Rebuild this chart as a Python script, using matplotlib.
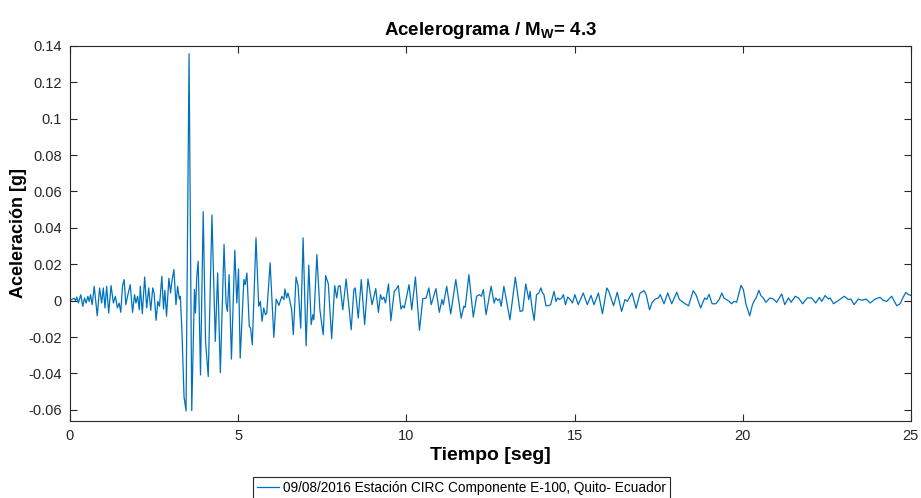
import numpy as np
import matplotlib
matplotlib.use('Agg')
import matplotlib.pyplot as plt
from matplotlib.ticker import FormatStrFormatter

plt.rcParams['font.family'] = ['Liberation Sans', 'DejaVu Sans']
plt.rcParams['mathtext.fontset'] = 'custom'
plt.rcParams['mathtext.rm'] = 'Liberation Sans'
plt.rcParams['mathtext.bf'] = 'Liberation Sans:bold'

# acelerograma (tiempo [s], aceleracion [g])
t = [0.0, 0.05, 0.12, 0.17, 0.20, 0.25, 0.32, 0.38, 0.43, 0.48, 0.53, 0.57, 0.61, 0.66,
     0.72, 0.81, 0.88, 0.94, 0.99, 1.04, 1.09, 1.15, 1.22, 1.29, 1.35, 1.41, 1.46, 1.51,
     1.56, 1.61, 1.66, 1.71, 1.79, 1.86, 1.92, 1.96, 2.01, 2.06, 2.09, 2.15, 2.22, 2.28,
     2.34, 2.40, 2.46, 2.50, 2.56, 2.61, 2.66, 2.73, 2.78, 2.82, 2.87, 2.94, 2.99, 3.03,
     3.09, 3.15, 3.20, 3.25, 3.28, 3.33, 3.39, 3.45, 3.54, 3.62, 3.70, 3.73, 3.77, 3.81,
     3.84, 3.88, 3.96, 4.03, 4.11, 4.22, 4.32, 4.39, 4.47, 4.58, 4.64, 4.68, 4.73, 4.80,
     4.90, 4.96, 5.01, 5.06, 5.17, 5.21, 5.26, 5.33, 5.37, 5.42, 5.53, 5.61, 5.66, 5.71,
     5.76, 5.81, 5.85, 5.95, 6.06, 6.13, 6.21, 6.30, 6.36, 6.39, 6.44, 6.48, 6.52, 6.59,
     6.64, 6.72, 6.78, 6.86, 6.93, 7.02, 7.10, 7.17, 7.22, 7.25, 7.34, 7.43, 7.48, 7.53,
     7.60, 7.68, 7.78, 7.87, 7.93, 7.98, 8.03, 8.11, 8.21, 8.36, 8.44, 8.48, 8.57, 8.66,
     8.76, 8.86, 8.98, 9.09, 9.17, 9.23, 9.28, 9.33, 9.38, 9.47, 9.54, 9.64, 9.69, 9.76,
     9.84, 9.89, 9.94, 10.08, 10.16, 10.27, 10.39, 10.49, 10.59, 10.67, 10.74, 10.88,
     10.98, 11.06, 11.10, 11.20, 11.32, 11.47, 11.63, 11.71, 11.75, 11.86, 11.99, 12.09,
     12.17, 12.23, 12.29, 12.37, 12.52, 12.61, 12.66, 12.71, 12.77, 12.82, 12.90, 13.08,
     13.24, 13.38, 13.46, 13.55, 13.64, 13.68, 13.73, 13.80, 13.87, 13.94, 14.00, 14.05,
     14.09, 14.15, 14.22, 14.29, 14.39, 14.45, 14.50, 14.55, 14.62, 14.67, 14.73, 14.80,
     14.87, 14.94, 15.01, 15.11, 15.26, 15.38, 15.49, 15.58, 15.71, 15.83, 15.96, 16.02,
     16.16, 16.27, 16.40, 16.50, 16.57, 16.71, 16.83, 16.95, 17.07, 17.13, 17.23, 17.31,
     17.40, 17.49, 17.55, 17.66, 17.77, 17.89, 18.04, 18.12, 18.29, 18.39, 18.53, 18.61,
     18.75, 18.87, 18.93, 19.00, 19.09, 19.20, 19.30, 19.38, 19.44, 19.52, 19.60, 19.67,
     19.74, 19.82, 19.89, 19.95, 20.02, 20.10, 20.21, 20.29, 20.35, 20.40, 20.48, 20.54,
     20.61, 20.69, 20.81, 20.91, 21.01, 21.09, 21.16, 21.25, 21.36, 21.44, 21.56, 21.66,
     21.78, 21.92, 22.05, 22.17, 22.28, 22.35, 22.45, 22.55, 22.60, 22.70, 22.84, 23.02,
     23.14, 23.22, 23.31, 23.44, 23.54, 23.67, 23.79, 23.94, 24.08, 24.18, 24.28, 24.43,
     24.58, 24.68, 24.76, 24.85, 24.93, 25.0]

acel = [0.0, 0.0006, 0.0013, 0.0, 0.0020, -0.0013, 0.0033, -0.0031, 0.0015, -0.0013,
        0.0024, -0.0004, 0.0033, -0.0022, 0.0079, -0.0083, 0.0070, -0.0013, 0.0070, -0.0040,
        0.0079, -0.0068, 0.0083, -0.0013, 0.0024, -0.0040, -0.0013, -0.0064, 0.0079, 0.0116,
        -0.0022, 0.0024, 0.0088, -0.0064, 0.0033, -0.0013, 0.0024, -0.0050, 0.0079, -0.0072,
        0.0130, -0.0040, 0.0070, -0.0053, 0.0070, 0.0042, -0.0108, -0.0004, -0.0031, 0.0134,
        -0.0046, 0.0057, -0.0086, 0.0123, 0.0042, 0.0107, 0.0171, -0.0022, 0.0079, 0.0009,
        0.0024, -0.0178, -0.0527, -0.0606, 0.1356, -0.0604, 0.0061, -0.0068, 0.0134, 0.0217,
        -0.0031, -0.0408, 0.0489, -0.0224, -0.0417, 0.0470, -0.0224, 0.0152, -0.0395, 0.0309,
        -0.0013, -0.0059, 0.0143, -0.0321, 0.0277, -0.0013, 0.0174, -0.0316, 0.0116, 0.0088,
        0.0152, -0.0141, -0.0151, -0.0242, 0.0345, -0.0031, -0.0004, -0.0114, -0.0040, -0.0077,
        -0.0068, 0.0208, -0.0202, 0.0009, -0.0026, 0.0024, 0.0006, 0.0064, 0.0015, 0.0042,
        0.0015, -0.0050, -0.0187, 0.0130, 0.0083, -0.0151, 0.0345, -0.0248, 0.0195, -0.0132,
        -0.0077, -0.0105, 0.0253, -0.0050, -0.0123, -0.0187, 0.0138, 0.0092, -0.0209, 0.0083,
        0.0015, 0.0079, 0.0083, -0.0050, 0.0119, -0.0160, 0.0061, 0.0070, -0.0096, 0.0116,
        -0.0132, 0.0119, -0.0022, 0.0066, -0.0064, 0.0033, 0.0006, 0.0020, -0.0013, 0.0092,
        -0.0110, 0.0051, 0.0061, 0.0083, -0.0046, -0.0028, -0.0040, 0.0088, -0.0050, 0.0130,
        -0.0163, 0.0011, 0.0015, 0.0070, -0.0022, 0.0066, -0.0064, 0.0006, -0.0022, 0.0079,
        -0.0073, 0.0116, -0.0096, -0.0031, -0.0037, 0.0143, -0.0090, 0.0024, 0.0033, 0.0024,
        0.0061, -0.0077, 0.0079, -0.0013, 0.0015, 0.0002, 0.0009, -0.0031, 0.0079, -0.0105,
        0.0129, -0.0059, -0.0055, 0.0092, 0.0006, 0.0051, -0.0031, -0.0108, 0.0033, 0.0042,
        0.0070, 0.0042, 0.0033, -0.0028, -0.0028, -0.0022, 0.0051, -0.0004, 0.0015, 0.0006,
        0.0015, 0.0033, -0.0022, 0.0020, 0.0006, -0.0013, 0.0033, -0.0022, 0.0042, -0.0022,
        0.0029, -0.0022, 0.0042, -0.0072, 0.0070, 0.0051, -0.0028, 0.0046, -0.0059, 0.0006,
        -0.0004, 0.0042, -0.0042, 0.0042, 0.0055, 0.0033, -0.0050, -0.0009, 0.0009, 0.0015,
        0.0033, -0.0017, 0.0042, -0.0017, 0.0046, 0.0006, -0.0017, -0.0028, 0.0055, 0.0033,
        -0.0040, 0.0015, 0.0006, 0.0035, -0.0017, -0.0017, 0.0006, 0.0042, 0.0015, 0.0006,
        -0.0004, -0.0017, -0.0004, -0.0009, 0.0042, 0.0084, 0.0061, -0.0022, -0.0083, -0.0022,
        0.0002, 0.0015, 0.0057, 0.0028, 0.0015, -0.0009, 0.0015, 0.0009, -0.0009, 0.0015,
        0.0037, -0.0022, 0.0015, -0.0009, 0.0024, 0.0015, -0.0017, 0.0015, 0.0015, -0.0013,
        0.0018, -0.0004, 0.0028, 0.0009, 0.0015, -0.0017, 0.0, 0.0024, 0.0006, 0.0009,
        -0.0022, 0.0009, 0.0002, 0.0009, -0.0013, 0.0009, 0.0018, 0.0002, -0.0004, 0.0024,
        -0.0028, -0.0017, 0.0015, 0.0046, 0.0033, 0.0029]

etiqueta = '09/08/2016 Estación CIRC Componente E-100, Quito- Ecuador'
yticks = np.round(np.arange(-0.06, 0.141, 0.02), 2)
xticks = [0, 5, 10, 15, 20, 25]

fig = plt.figure(figsize=(9.21, 4.98), dpi=100)
ax = fig.add_axes([0.076, 0.155, 0.913, 0.753])
ax.plot(t, acel, color='#0072BD', lw=0.9, label=etiqueta)

ax.set_xlim(0, 25)
ax.set_ylim(-0.066, 0.14)
ax.set_xticks(xticks)
ax.set_yticks(yticks)
ax.yaxis.set_major_formatter(FormatStrFormatter('%g'))
ax.tick_params(direction='in', top=True, right=True, length=5, width=0.8,
               labelsize=10.5, colors='#262626', pad=6)
for s in ax.spines.values():
    s.set_color('#262626')
    s.set_linewidth(0.8)

ax.set_title(r'Acelerograma / M$_\mathbf{W}$= 4.3', fontsize=13.5, fontweight='bold', pad=8)
ax.set_xlabel('Tiempo [seg]', fontsize=14, fontweight='bold', labelpad=3)
ax.set_ylabel('Aceleración [g]', fontsize=13, fontweight='bold', labelpad=1)

leg = fig.legend(loc='upper center', bbox_to_anchor=(0.501, 0.043), fontsize=9.8,
                 fancybox=False, edgecolor='#262626', framealpha=1,
                 handlelength=1.6, handletextpad=0.3, borderpad=0.3, borderaxespad=0)
leg.get_frame().set_linewidth(0.8)

fig.savefig('out.png', dpi=100)
